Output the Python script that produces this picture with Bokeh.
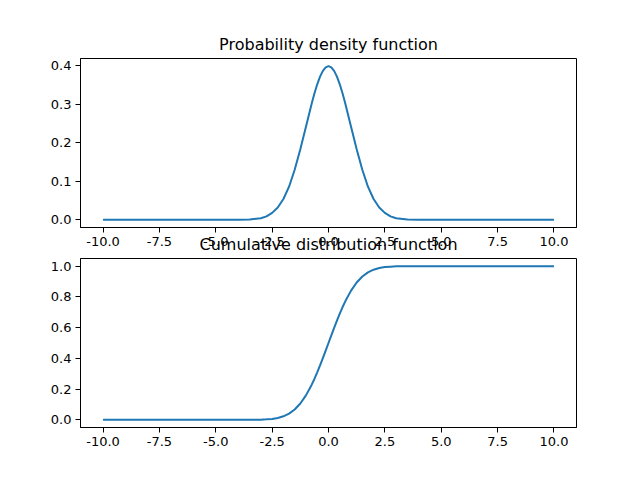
from bokeh.plotting import figure
from bokeh.layouts import column
from bokeh.models import FixedTicker, NumeralTickFormatter, Range1d
from bokeh.embed import file_html
from bokeh.resources import INLINE

# values
x_vals = [-10, -5, -4, -3.5, -3, -2.75, -2.5, -2.25, -2, -1.75, -1.5, -1.25, -1, -0.75, -0.625, -0.5, -0.375,
          -0.25, -0.125, 0, 0.125, 0.25, 0.375, 0.5, 0.625, 0.75, 1, 1.25, 1.5, 1.75, 2, 2.25, 2.5, 2.75,
          3, 3.5, 4, 5, 10]
pdf_vals = [0.0, 0.0, 0.0, 0.001, 0.004, 0.009, 0.018, 0.032, 0.054, 0.086, 0.130, 0.183, 0.242, 0.301, 0.328,
            0.352, 0.372, 0.387, 0.396, 0.399, 0.396, 0.387, 0.372, 0.352, 0.328, 0.301, 0.242, 0.183, 0.130,
            0.086, 0.054, 0.032, 0.018, 0.009, 0.004, 0.001, 0.0, 0.0, 0.0]
cdf_vals = [0.0, 0.0, 0.0, 0.0, 0.001, 0.003, 0.006, 0.012, 0.023, 0.040, 0.067, 0.106, 0.159, 0.227, 0.266,
            0.309, 0.354, 0.401, 0.450, 0.5, 0.550, 0.599, 0.646, 0.691, 0.734, 0.773, 0.841, 0.894, 0.933,
            0.960, 0.977, 0.988, 0.994, 0.997, 0.999, 1.0, 1.0, 1.0, 1.0]
x_ticks = [-10, -7.5, -5, -2.5, 0, 2.5, 5, 7.5, 10]
pdf_ticks = [0.0, 0.1, 0.2, 0.3, 0.4]
cdf_ticks = [0.0, 0.2, 0.4, 0.6, 0.8, 1.0]
titles = ["Probability density function", "Cumulative distribution function"]

FONT = "DejaVu Sans"
BLUE = "#1f77b4"


def make(title, y, yticks, yr, top_border, margin):
    p = figure(frame_width=496, frame_height=169, output_backend="svg", toolbar_location=None,
               x_range=Range1d(-11, 11), y_range=Range1d(*yr),
               min_border_left=80, min_border_right=64, min_border_top=top_border, min_border_bottom=0,
               margin=margin)
    p.title.text = title
    p.title.text_font = FONT
    p.title.text_font_size = "16px"
    p.title.text_font_style = "normal"
    p.title.align = "center"
    p.title.text_color = "black"
    p.line(x_vals, y, line_color=BLUE, line_width=2)
    p.xgrid.visible = False
    p.ygrid.visible = False
    p.outline_line_color = "black"
    p.outline_line_alpha = 1
    p.outline_line_width = 1
    p.background_fill_color = "white"
    p.border_fill_color = None
    p.xaxis.ticker = FixedTicker(ticks=x_ticks)
    p.xaxis.formatter = NumeralTickFormatter(format="0.0")
    p.yaxis.ticker = FixedTicker(ticks=yticks)
    p.yaxis.formatter = NumeralTickFormatter(format="0.0")
    for ax in (p.xaxis, p.yaxis):
        ax.major_label_text_font = FONT
        ax.major_label_text_font_size = "13px"
        ax.major_label_text_color = "black"
        ax.axis_line_color = "black"
        ax.major_tick_line_color = "black"
        ax.major_tick_in = 0
        ax.major_tick_out = 5
        ax.minor_tick_line_color = None
        ax.major_label_standoff = 4
    return p


p1 = make(titles[0], pdf_vals, pdf_ticks, (-0.02, 0.419), 58, (0, 0, 0, 0))
p2 = make(titles[1], cdf_vals, cdf_ticks, (-0.05, 1.05), 0, (-21, 0, 0, 0))

layout = column(p1, p2, spacing=0)
open("out.html", "w").write(file_html(layout, INLINE))
